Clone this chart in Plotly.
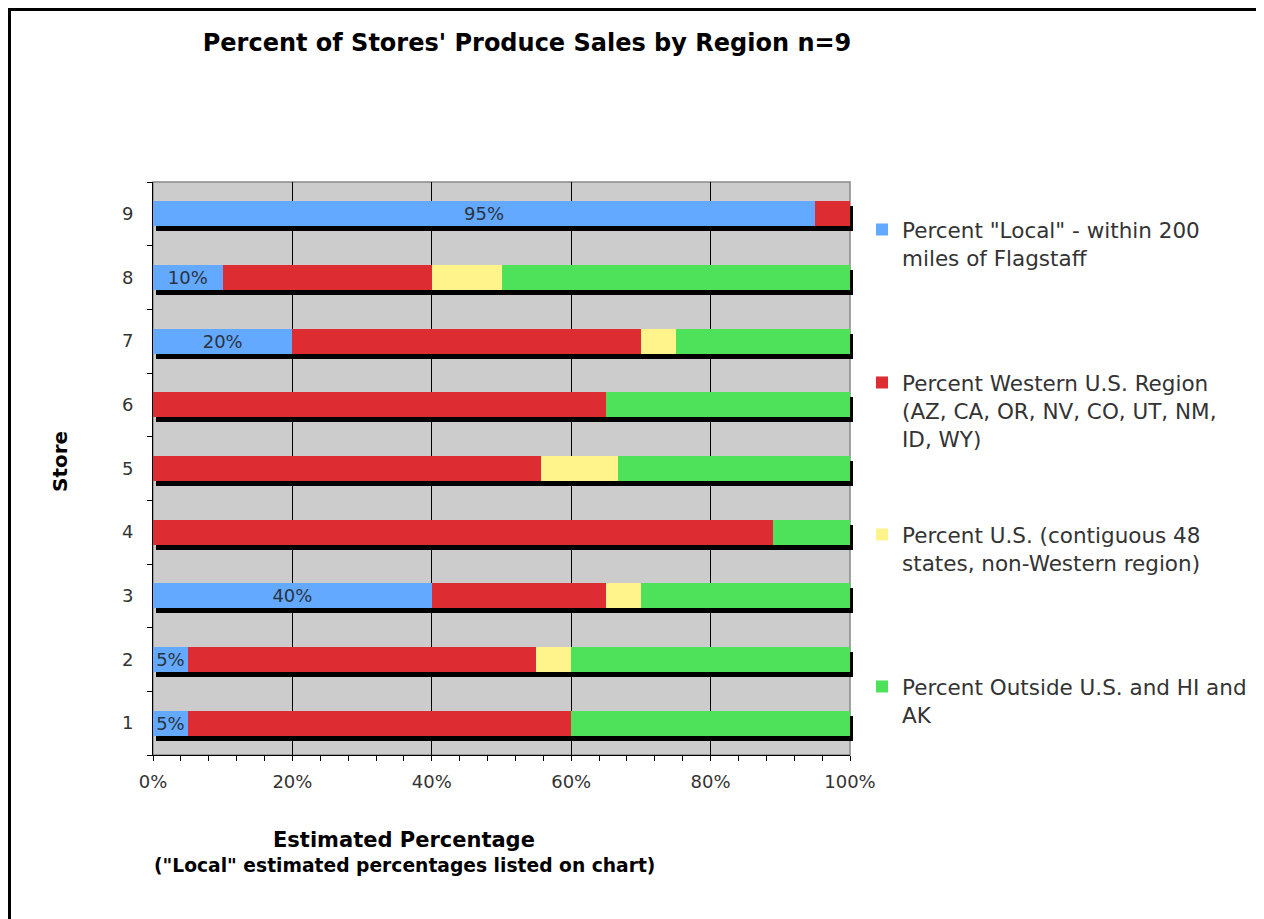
import plotly.graph_objects as go

# ---------------- data ----------------
stores = ["1", "2", "3", "4", "5", "6", "7", "8", "9"]
local_pct = [5, 5, 40, 0, 0, 0, 20, 10, 95]
western_pct = [55, 50, 25, 88.9, 55.6, 65, 50, 30, 5]
us48_pct = [0, 5, 5, 0, 11.1, 0, 5, 10, 0]
outside_pct = [40, 40, 30, 11.1, 33.3, 35, 25, 50, 0]
local_labels = [f"{v:g}%" if v else "" for v in local_pct]

series_names = [
    'Percent "Local" - within 200<br>miles of Flagstaff',
    'Percent Western U.S. Region<br>(AZ, CA, OR, NV, CO, UT, NM,<br>ID, WY)',
    'Percent U.S. (contiguous 48<br>states, non-Western region)',
    'Percent Outside U.S. and HI and<br>AK',
]
series_values = [local_pct, western_pct, us48_pct, outside_pct]
series_colors = ["#63A9FF", "#DD2D33", "#FFF48C", "#4DE259"]

x_tick_vals = [0, 20, 40, 60, 80, 100]
x_tick_text = ["0%", "20%", "40%", "60%", "80%", "100%"]

# ---------------- layout geometry ----------------
OFF = 8                      # page body margin
FW, FH = 1264 - OFF, 919 - OFF
L, R, T, B = 153 - OFF, 411, 182 - OFF, 159
IW, IH = FW - L - R, FH - T - B
DX, DY = 3, 5  # shadow offset in px

main_xdom = [0, (IW - DX) / IW]
main_ydom = [DY / IH, 1]
shad_xdom = [DX / IW, 1]
shad_ydom = [0, 1 - DY / IH]


def px_x(px):
    """screen px -> paper x"""
    return (px - OFF - L) / IW


def px_y(py):
    """screen px -> paper y"""
    return (FH - B - (py - OFF)) / IH


FONT = "DejaVu Sans"
fig = go.Figure()

# shadow bars (drawn first, on the offset subplot)
for vals in series_values:
    fig.add_trace(go.Bar(
        y=stores, x=vals, orientation="h",
        marker=dict(color="black", line=dict(width=0)),
        xaxis="x", yaxis="y", showlegend=False, hoverinfo="skip",
    ))

legend_ids = ["legend", "legend2", "legend3", "legend4"]
for i, (name, vals, col) in enumerate(zip(series_names, series_values, series_colors)):
    kw = {}
    if i == 0:
        kw = dict(text=local_labels, textposition="inside", insidetextanchor="middle",
                  textangle=0, constraintext="none",
                  textfont=dict(family=FONT, size=18, color="#2a3340"))
    fig.add_trace(go.Bar(
        y=stores, x=vals, orientation="h", name=name,
        marker=dict(color=col, line=dict(width=0)),
        xaxis="x2", yaxis="y2", legend=legend_ids[i], **kw,
    ))

# legends
legend_first_line = [230, 383, 535, 687]
legend_common = dict(
    xanchor="left", yanchor="top", valign="top",
    font=dict(family=FONT, size=21.5, color="#333333"),
    bgcolor="rgba(0,0,0,0)", borderwidth=0, itemwidth=30,
    tracegroupgap=0,
)
legends = {}
for lid, ly in zip(legend_ids, legend_first_line):
    legends[lid] = dict(x=px_x(862), y=px_y(ly - 21), **legend_common)

fig.update_layout(
    width=FW, height=FH,
    margin=dict(l=L, r=R, t=T, b=B, pad=0),
    paper_bgcolor="white",
    plot_bgcolor="rgba(0,0,0,0)",
    barmode="stack",
    bargap=0.607,
    title=dict(
        text="Percent of Stores' Produce Sales by Region n=9",
        font=dict(family=FONT, size=24, color="black", weight="bold"),
        xref="container", yref="container",
        x=(527 - OFF) / FW, y=1 - (43 - OFF) / FH, xanchor="center", yanchor="middle",
    ),
    xaxis=dict(domain=shad_xdom, range=[0, 100], visible=False, anchor="y"),
    yaxis=dict(domain=shad_ydom, type="category", categoryarray=stores,
               categoryorder="array", range=[-0.5, 8.5], visible=False, anchor="x"),
    xaxis2=dict(
        domain=main_xdom, anchor="y2", range=[0, 100],
        tickvals=x_tick_vals, ticktext=x_tick_text,
        showgrid=True, gridcolor="black", gridwidth=1, zeroline=False,
        showline=True, linecolor="black", linewidth=1,
        ticks="outside", ticklen=5, tickcolor="black", tickwidth=1,
        minor=dict(dtick=4, ticks="outside", ticklen=5, tickcolor="black", showgrid=False),
        tickfont=dict(family=FONT, size=18, color="#333333"),
        ticklabelstandoff=5,
    ),
    yaxis2=dict(
        domain=main_ydom, anchor="x2", type="category", categoryarray=stores,
        categoryorder="array", range=[-0.5, 8.5],
        showgrid=False, zeroline=False,
        showline=True, linecolor="black", linewidth=1,
        ticks="outside", tickson="boundaries", ticklen=5, tickcolor="black",
        tickfont=dict(family=FONT, size=18, color="#333333"),
        ticklabelstandoff=15,
    ),
    shapes=[
        # plot area background with gray frame
        dict(type="rect", xref="paper", yref="paper", layer="below",
             x0=main_xdom[0], x1=main_xdom[1], y0=main_ydom[0], y1=main_ydom[1],
             fillcolor="#CCCCCC", line=dict(color="#888888", width=1.5)),
        # outer chart frame (kept just inside the figure area)
        dict(type="rect", xref="paper", yref="paper", layer="below",
             x0=px_x(OFF + 1.5), x1=px_x(1290), y0=px_y(950), y1=px_y(OFF + 1.5),
             fillcolor="rgba(0,0,0,0)", line=dict(color="black", width=3)),
    ],
    annotations=[
        dict(text="Store", textangle=-90, xref="paper", yref="paper",
             x=px_x(60), y=px_y(461), showarrow=False, xanchor="center", yanchor="middle",
             font=dict(family=FONT, size=20, color="black", weight="bold")),
        dict(text="Estimated Percentage", xref="paper", yref="paper",
             x=px_x(404), y=px_y(840), showarrow=False, xanchor="center", yanchor="middle",
             font=dict(family=FONT, size=21, color="black", weight="bold")),
        dict(text='("Local" estimated percentages listed on chart)', xref="paper", yref="paper",
             x=px_x(404), y=px_y(865), showarrow=False, xanchor="center", yanchor="middle",
             font=dict(family=FONT, size=18.7, color="black", weight="bold")),
    ],
    **legends,
)

fig.write_html("out.html")
